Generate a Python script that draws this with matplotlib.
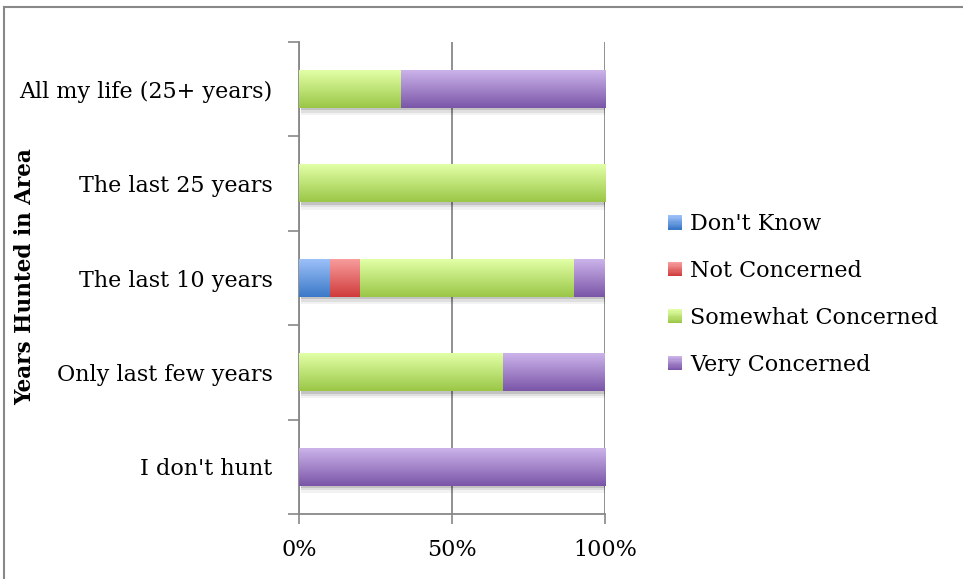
import matplotlib.pyplot as plt
import numpy as np
from matplotlib.colors import to_rgb
from matplotlib.legend_handler import HandlerBase
from matplotlib.patches import Rectangle
from matplotlib.lines import Line2D

plt.rcParams['font.family'] = ['DejaVu Serif']

# bottom-to-top order of the rows
categories = ["I don't hunt", "Only last few years", "The last 10 years",
              "The last 25 years", "All my life (25+ years)"]
series = ["Don't Know", "Not Concerned", "Somewhat Concerned", "Very Concerned"]
dont_know = [0, 0, 10, 0, 0]
not_concerned = [0, 0, 10, 0, 0]
somewhat = [0, 66.7, 70, 100, 33.3]
very = [100, 33.3, 10, 0, 66.7]
values = [dont_know, not_concerned, somewhat, very]

# light (top) / dark (bottom) ends of each fill gradient
top_colors = ['#9cc0f8', '#f89c9c', '#e2ffa6', '#cbb3ea']
bottom_colors = ['#3b79c8', '#d03c3c', '#9ac747', '#7b56a8']

fig = plt.figure(figsize=(9.63, 5.79), dpi=100)
ax = fig.add_axes([299/963, 1 - 514/579, 306/963, 472/579])

y = np.arange(len(categories))
bar_h = 0.4


def gradient(c_top, c_bot, n=64):
    t = np.linspace(0, 1, n)[:, None]
    a, b = np.array(to_rgb(c_bot)), np.array(to_rgb(c_top))
    return (a + (b - a) * t)[:, None, :]


left = np.zeros(len(categories))
for vals, ct, cb in zip(values, top_colors, bottom_colors):
    bars = ax.barh(y, vals, left=left, height=bar_h, color='none', zorder=3)
    for p in bars:
        x0, y0, w, h = p.get_x(), p.get_y(), p.get_width(), p.get_height()
        if w <= 0:
            continue
        ax.imshow(gradient(ct, cb), extent=[x0, x0 + w, y0, y0 + h],
                  origin='lower', aspect='auto', zorder=3, interpolation='bilinear')
    left += np.array(vals)

# soft drop shadow under each full bar
for yi, total in zip(y, left):
    for k, a in enumerate([0.12, 0.08, 0.05]):
        d = 0.025 * (k + 1)
        ax.add_patch(Rectangle((0.6, yi - bar_h / 2 - d), total, d,
                               color='black', alpha=a, lw=0, zorder=2))

ax.set_xlim(0, 100)
ax.set_ylim(-0.5, len(categories) - 0.5)
ax.set_xticks([0, 50, 100])
ax.set_xticklabels(['0%', '50%', '100%'])
ax.set_yticks(y)
ax.set_yticklabels(categories)
ax.set_yticks(np.arange(-0.5, len(categories)), minor=True)
ax.tick_params(axis='y', which='major', length=0, pad=19, labelsize=16)
ax.tick_params(axis='y', which='minor', length=8, width=1.2, color='#888888')
ax.tick_params(axis='x', length=7, width=1.2, color='#888888', pad=11, labelsize=16)
ax.xaxis.grid(True, color='#888888', lw=1.3, zorder=1)
ax.set_axisbelow(True)
for s in ['top', 'right']:
    ax.spines[s].set_visible(False)
for s in ['left', 'bottom']:
    ax.spines[s].set_color('#888888')
    ax.spines[s].set_linewidth(1.3)

fig.text(25/963, 1 - 277/579, 'Years Hunted in Area', rotation=90,
         ha='center', va='center', fontsize=15.5, fontweight='bold')


class GradHandler(HandlerBase):
    def __init__(self, ct, cb):
        super().__init__()
        self.ct, self.cb = ct, cb

    def create_artists(self, legend, orig_handle, xdescent, ydescent,
                       width, height, fontsize, trans):
        n = 12
        g = gradient(self.ct, self.cb, n)[:, 0, :]
        arts = []
        for i in range(n):
            arts.append(Rectangle((-xdescent, -ydescent + height * i / n),
                                  width, height / n + 0.05, color=g[i], lw=0,
                                  transform=trans))
        return arts


handles = [Rectangle((0, 0), 1, 1) for _ in series]
fig.legend(handles, series, loc='center left',
           bbox_to_anchor=(668/963, 1 - 294.5/579), frameon=False,
           fontsize=16, handlelength=0.62, handleheight=0.62,
           handletextpad=0.38, labelspacing=1.12, borderpad=0, borderaxespad=0,
           handler_map={h: GradHandler(ct, cb)
                        for h, ct, cb in zip(handles, top_colors, bottom_colors)})

# outer frame edges
fig.add_artist(Line2D([4/963, 4/963], [0, 1 - 7/579], color='#888888', lw=1.5))
fig.add_artist(Line2D([4/963, 1], [1 - 7/579, 1 - 7/579], color='#888888', lw=1.5))

fig.savefig('out.png', dpi=100, facecolor='white')
